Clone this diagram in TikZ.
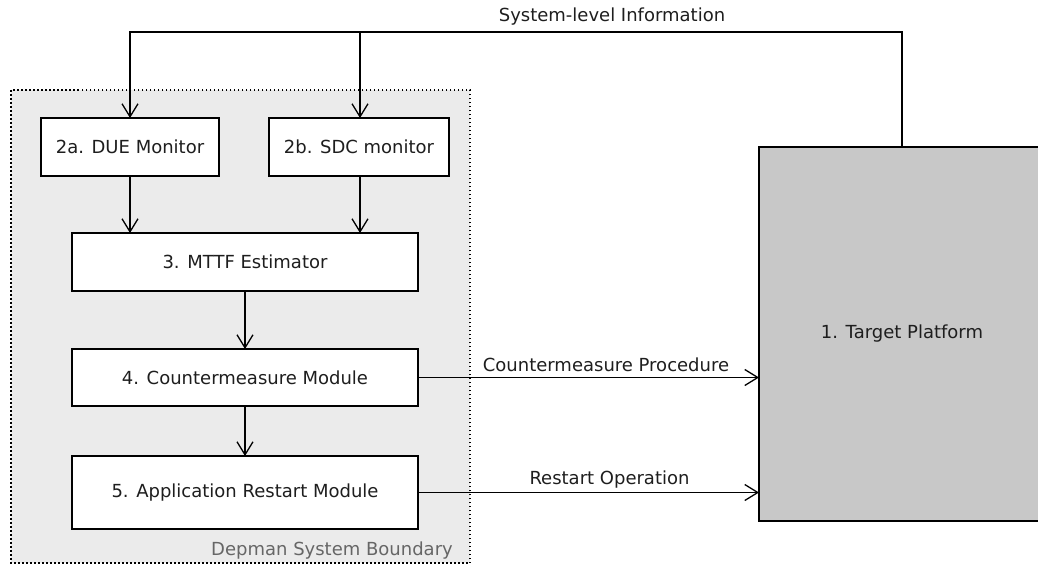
\documentclass[tikz,border=0pt]{standalone}
\usepackage{fontspec}
\setmainfont{DejaVu Sans}
\usetikzlibrary{arrows.meta}
\definecolor{bndfill}{HTML}{EBEBEB}
\definecolor{tpfill}{HTML}{C8C8C8}
\definecolor{txt}{HTML}{1E1E1E}
\begin{document}
\begin{tikzpicture}[x=1pt,y=-1pt,
  every node/.style={font=\fontsize{18}{21}\selectfont, text=txt},
  box/.style={draw=black, fill=white, line width=1.3pt, inner sep=0pt, outer sep=0pt},
  arr/.style={line width=1.3pt, -{Straight Barb[length=13pt,width=16pt,line width=1.3pt]}},
  lbl/.style={inner sep=0pt}]
\useasboundingbox (0,0) rectangle (1038,565);
\begin{scope}
\clip (0,0) rectangle (1038,565);
% boundary
\draw[fill=bndfill, line width=1.3pt, dash pattern=on 1.5pt off 2.5pt] (11,90) rectangle (470,563);
\node[lbl, anchor=east, text=black!60] (bl) at (453,551) {Depman System Boundary};
% nodes
\node[box, minimum width=178pt, minimum height=58pt] (due) at (130,147) {2a. DUE Monitor};
\node[box, minimum width=180pt, minimum height=58pt] (sdc) at (359,147) {2b. SDC monitor};
\node[box, minimum width=346pt, minimum height=58pt] (mttf) at (245,262) {3. MTTF Estimator};
\node[box, minimum width=346pt, minimum height=57pt] (cm) at (245,377.5) {4. Countermeasure Module};
\node[box, minimum width=346pt, minimum height=73pt] (ar) at (245,492.5) {5. Application Restart Module};
\node[box, fill=tpfill, minimum width=286pt, minimum height=374pt] (tp) at (902,334) {1. Target Platform};
% top connector
\coordinate (topr) at (902,32);
\coordinate (topm) at (360,32);
\draw[arr] (tp.north) -- (topr) -| (due.north);
\draw[arr] (topm) -- (topm |- sdc.north);
\node[lbl] (sli) at (612,17) {System-level Information};
% vertical flow
\draw[arr] (due.south) -- (due.south |- mttf.north);
\draw[arr] (360,176) -- (360,233);
\draw[arr] (mttf.south) -- (cm.north);
\draw[arr] (cm.south) -- (ar.north);
% to target
\draw[arr] (cm.east) -- (tp.west |- cm.east);
\node[lbl] (cmp) at (606,365) {Countermeasure Procedure};
\draw[arr] (ar.east) -- (tp.west |- ar.east);
\node[lbl] (ro) at (609.5,480) {Restart Operation};
\end{scope}
\end{tikzpicture}
\end{document}
